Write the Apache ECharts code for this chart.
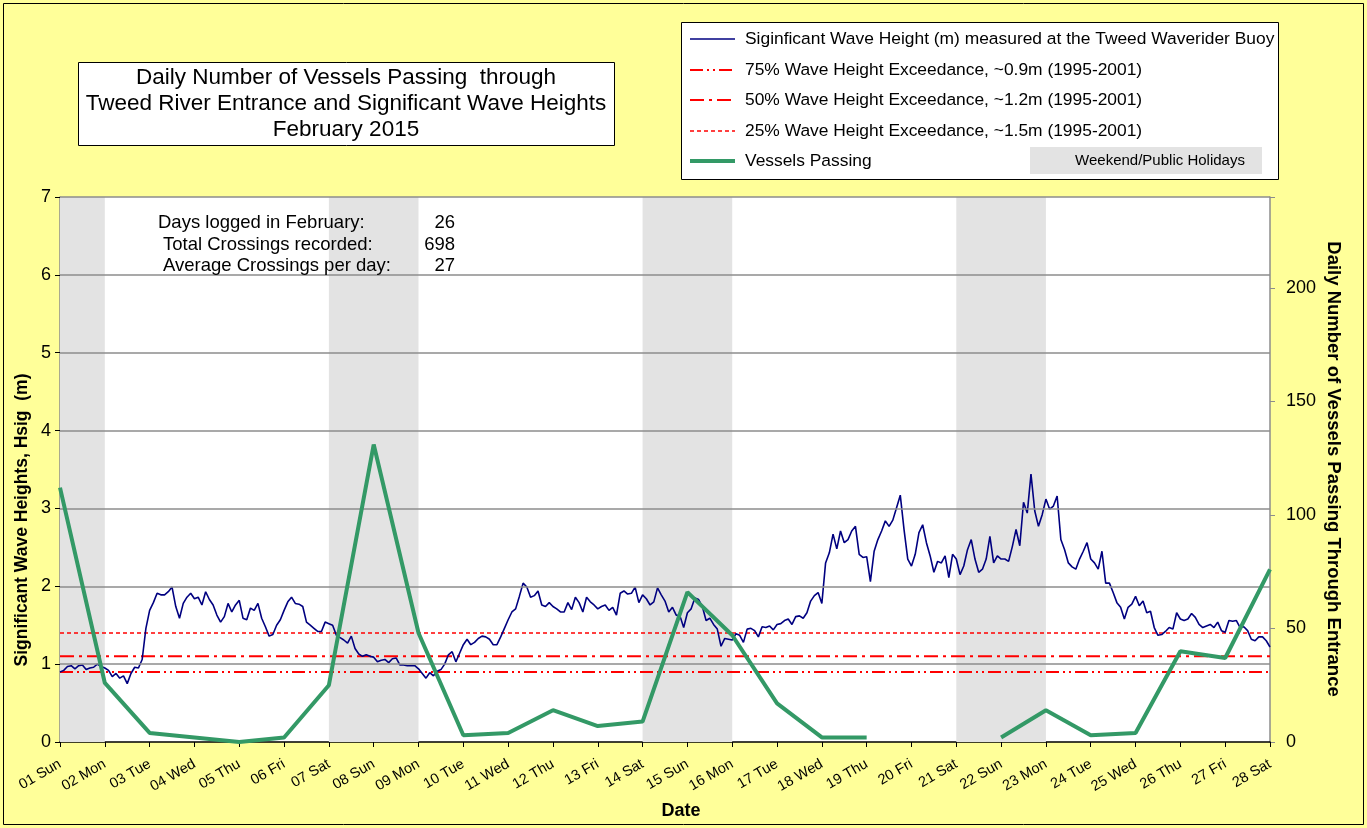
<!DOCTYPE html>
<html>
<head>
<meta charset="utf-8">
<script src="https://cdn.jsdelivr.net/npm/echarts@6/dist/echarts.min.js"></script>
<style>
html,body{margin:0;padding:0;background:#FFFF99;}
#chart{width:1367px;height:828px;}
</style>
</head>
<body>
<div id="chart"></div>
<script>
// ---- data ----
const dayLabels = ["01 Sun","02 Mon","03 Tue","04 Wed","05 Thu","06 Fri","07 Sat","08 Sun","09 Mon","10 Tue","11 Wed","12 Thu","13 Fri","14 Sat","15 Sun","16 Mon","17 Tue","18 Wed","19 Thu","20 Fri","21 Sat","22 Sun","23 Mon","24 Tue","25 Wed","26 Thu","27 Fri","28 Sat"];
// daily vessel crossings (null = not logged)
const vessels = [112,26,4,2,0,2,25,131,48,3,4,14,7,9,66,47,17,2,2,null,null,2,14,3,4,40,37,76];
// significant wave height (m), one reading every 2 hours from 01 Sun 00:00
const waveHeights = [
0.90,0.92,0.97,0.98,0.94,0.98,0.99,0.93,0.95,0.96,1.00,0.97,
0.95,0.92,0.84,0.88,0.82,0.85,0.75,0.88,0.96,0.95,1.06,1.46,
1.69,1.79,1.91,1.89,1.89,1.93,1.99,1.74,1.59,1.78,1.86,1.91,
1.84,1.86,1.76,1.93,1.83,1.76,1.63,1.54,1.61,1.78,1.67,1.76,
1.82,1.59,1.57,1.72,1.69,1.78,1.59,1.48,1.36,1.38,1.50,1.57,
1.69,1.80,1.86,1.78,1.77,1.74,1.54,1.50,1.46,1.42,1.42,1.54,
1.52,1.50,1.37,1.34,1.31,1.27,1.36,1.20,1.13,1.10,1.12,1.10,
1.09,1.03,1.05,1.06,1.02,1.07,1.08,0.99,0.99,0.98,0.98,0.98,
0.94,0.88,0.82,0.89,0.85,0.91,0.93,1.00,1.12,1.16,1.03,1.14,
1.25,1.32,1.25,1.28,1.33,1.36,1.35,1.32,1.25,1.25,1.35,1.46,
1.57,1.67,1.71,1.87,2.04,1.99,1.86,1.88,1.94,1.76,1.74,1.79,
1.74,1.71,1.67,1.67,1.79,1.70,1.86,1.79,1.67,1.86,1.80,1.76,
1.71,1.74,1.76,1.69,1.73,1.63,1.91,1.94,1.90,1.91,1.99,1.79,
1.89,1.84,1.76,1.80,1.98,1.89,1.81,1.67,1.73,1.63,1.62,1.47,
1.66,1.71,1.85,1.83,1.74,1.56,1.59,1.51,1.45,1.23,1.33,1.32,
1.31,1.39,1.37,1.28,1.45,1.46,1.43,1.35,1.48,1.47,1.49,1.44,
1.51,1.52,1.56,1.58,1.51,1.61,1.62,1.59,1.66,1.81,1.88,1.92,
1.78,2.30,2.43,2.67,2.48,2.71,2.56,2.60,2.71,2.77,2.41,2.37,
2.38,2.06,2.45,2.60,2.71,2.84,2.77,2.85,3.01,3.17,2.73,2.35,
2.26,2.41,2.69,2.79,2.56,2.39,2.18,2.32,2.30,2.39,2.11,2.41,
2.35,2.15,2.26,2.47,2.60,2.35,2.18,2.22,2.35,2.64,2.30,2.39,
2.35,2.35,2.32,2.51,2.73,2.52,3.08,2.94,3.44,2.97,2.77,2.92,
3.12,2.99,3.03,3.16,2.60,2.47,2.30,2.25,2.22,2.35,2.45,2.56,
2.35,2.30,2.22,2.45,2.04,2.04,1.92,1.79,1.73,1.58,1.73,1.77,
1.87,1.75,1.81,1.66,1.68,1.47,1.37,1.38,1.42,1.47,1.45,1.66,
1.58,1.56,1.58,1.65,1.60,1.51,1.47,1.49,1.51,1.47,1.54,1.43,
1.41,1.56,1.55,1.56,1.47,1.48,1.43,1.32,1.30,1.35,1.35,1.30,
1.22];
const readingsPerDay = 12;
// exceedance reference lines (m) as drawn
const exceed75 = 0.9;
const exceed50 = 1.1;
const exceed25 = 1.4;
// weekend / public holiday bands (day index start, end)
const bandStart = [0, 6, 13, 20];
const bandEnd = [1, 8, 15, 22];
const gridValues = [1,2,3,4,5,6,7];
const leftTicks = {min:0, max:7, interval:1};
const rightTicks = {min:0, max:240, interval:50};
const statsLabels = ["Days logged in February:", "Total Crossings recorded:", "Average Crossings per day:"];
const statsValues = ["26", "698", "27"];
const titleLines = ["Daily Number of Vessels Passing  through", "Tweed River Entrance and Significant Wave Heights", "February 2015"];
const legendLabels = ["Siginficant Wave Height (m) measured at the Tweed Waverider Buoy","75% Wave Height Exceedance, ~0.9m (1995-2001)","50% Wave Height Exceedance, ~1.2m (1995-2001)","25% Wave Height Exceedance, ~1.5m (1995-2001)","Vessels Passing"];

// ---- styling ----
const FONT = '"Liberation Sans", Arial, sans-serif';
const BLUE = '#000080', RED = '#FF0000', GREEN = '#339966', BAND = '#E3E3E3', GRIDC = '#8C8C8C';
const DASH75 = [13,4,2,4,2,4];
const DASH50 = [14,5,3,5];
const DASH25 = [4,3];

const waveData = waveHeights.map((h,k) => [k/readingsPerDay, h]);
const vesselData = vessels.map((v,i) => [i, v == null ? '-' : v]);
const lastDay = dayLabels.length - 1;
const lineData = v => [[0, v], [lastDay, v]];

const chart = echarts.init(document.getElementById('chart'), null, {renderer:'canvas'});

const legendY = [39, 70, 100, 131, 161];
const legendStyles = [
  {stroke: BLUE, lineWidth: 1.5},
  {stroke: RED, lineWidth: 2, lineDash: DASH75},
  {stroke: RED, lineWidth: 2, lineDash: DASH50},
  {stroke: RED, lineWidth: 1.5, lineDash: DASH25},
  {stroke: GREEN, lineWidth: 4}
];
const graphics = [
  {type:'rect', shape:{x:3.5,y:3.5,width:1360,height:821}, style:{fill:'none', stroke:'#000', lineWidth:1}, z:100, silent:true},
  // title box
  {type:'rect', shape:{x:78.5,y:62.5,width:536,height:83}, style:{fill:'#fff', stroke:'#000', lineWidth:1}, z:10},
  // legend box
  {type:'rect', shape:{x:681.5,y:22.5,width:597,height:157}, style:{fill:'#fff', stroke:'#000', lineWidth:1}, z:10},
  {type:'rect', shape:{x:1030,y:147,width:232,height:27}, style:{fill:BAND}, z:11},
  {type:'text', x:1160, y:161, style:{text:'Weekend/Public Holidays', font:'15px '+FONT, fill:'#000', align:'center', verticalAlign:'middle'}, z:12},
  // axis names
  {type:'text', x:22, y:520, rotation:Math.PI/2, style:{text:'Significant Wave Heights, Hsig  (m)', font:'bold 17.5px '+FONT, fill:'#000', align:'center', verticalAlign:'middle'}, z:12},
  {type:'text', x:1333, y:469, rotation:-Math.PI/2, style:{text:'Daily Number of Vessels Passing Through Entrance', font:'bold 18.5px '+FONT, fill:'#000', align:'center', verticalAlign:'middle'}, z:12},
  {type:'text', x:681, y:811, style:{text:'Date', font:'bold 18px '+FONT, fill:'#000', align:'center', verticalAlign:'middle'}, z:12}
];
titleLines.forEach((t,i) => graphics.push({type:'text', x:346, y:78 + i*26, style:{text:t, font:'22.5px '+FONT, fill:'#000', align:'center', verticalAlign:'middle'}, z:12}));
legendLabels.forEach((t,i) => {
  graphics.push({type:'line', shape:{x1:690,y1:legendY[i],x2:735,y2:legendY[i]}, style:legendStyles[i], z:12});
  graphics.push({type:'text', x:745, y:legendY[i], style:{text:t, font:'17.4px '+FONT, fill:'#000', align:'left', verticalAlign:'middle'}, z:12});
});
statsLabels.forEach((t,i) => {
  graphics.push({type:'text', x:[158,163,163][i], y:223 + i*21.5, style:{text:t, font:'18.5px '+FONT, fill:'#000', align:'left', verticalAlign:'middle'}, z:12});
  graphics.push({type:'text', x:455, y:223 + i*21.5, style:{text:statsValues[i], font:'18.5px '+FONT, fill:'#000', align:'right', verticalAlign:'middle'}, z:12});
});

const option = {
  animation:false,
  backgroundColor:'#FFFF99',
  textStyle:{fontFamily:FONT},
  grid:{left:60, right:97, top:197, bottom:86, show:true, backgroundColor:'#fff', borderWidth:0, containLabel:false},
  xAxis:{
    type:'value', min:0, max:lastDay, interval:1,
    axisLine:{show:true, onZero:false, lineStyle:{color:'#000', width:1.5}},
    axisTick:{show:true, length:5, lineStyle:{color:'#000'}},
    axisLabel:{rotate:30, fontSize:14.5, color:'#000', margin:21, fontFamily:FONT, formatter:v => dayLabels[v] || ''},
    splitLine:{show:false}
  },
  yAxis:[
    {type:'value', min:leftTicks.min, max:leftTicks.max, interval:leftTicks.interval, position:'left',
     axisLine:{show:true, lineStyle:{color:GRIDC, width:1.5}},
     axisTick:{show:true, length:5, lineStyle:{color:'#000'}},
     axisLabel:{fontSize:18, color:'#000', margin:9, fontFamily:FONT},
     splitLine:{show:false}},
    {type:'value', min:rightTicks.min, max:rightTicks.max, interval:rightTicks.interval, position:'right',
     axisLine:{show:true, lineStyle:{color:GRIDC, width:1.5}},
     axisTick:{show:true, length:5, lineStyle:{color:GRIDC}},
     axisLabel:{fontSize:18, color:'#000', margin:16, fontFamily:FONT, formatter:v => v > 200 ? '' : String(v)},
     splitLine:{show:false}}
  ],
  series:[
    {type:'line', name:'bands', data:[], z:1, silent:true,
     markArea:{silent:true, itemStyle:{color:BAND, opacity:1},
       data: bandStart.map((s,i) => [{xAxis:s},{xAxis:bandEnd[i]}])}},
    {type:'line', name:'grid', data:[], z:2, silent:true,
     markLine:{silent:true, symbol:['none','none'], label:{show:false},
       lineStyle:{color:GRIDC, width:1.5, type:'solid'},
       data: gridValues.map(v => ({yAxis:v}))}},
    {type:'line', name:'75%', data:lineData(exceed75), z:3, symbol:'none', silent:true,
     lineStyle:{color:RED, width:2, type:DASH75}},
    {type:'line', name:'50%', data:lineData(exceed50), z:3, symbol:'none', silent:true,
     lineStyle:{color:RED, width:2, type:DASH50}},
    {type:'line', name:'25%', data:lineData(exceed25), z:3, symbol:'none', silent:true,
     lineStyle:{color:RED, width:1.5, type:DASH25}},
    {type:'line', name:'wave', data:waveData, z:4, symbol:'none', silent:true,
     lineStyle:{color:BLUE, width:1.6}},
    {type:'line', name:'vessels', data:vesselData, yAxisIndex:1, z:5, symbol:'none', connectNulls:false, silent:true,
     lineStyle:{color:GREEN, width:4}}
  ],
  graphic: graphics
};
chart.setOption(option);
</script>
</body>
</html>
